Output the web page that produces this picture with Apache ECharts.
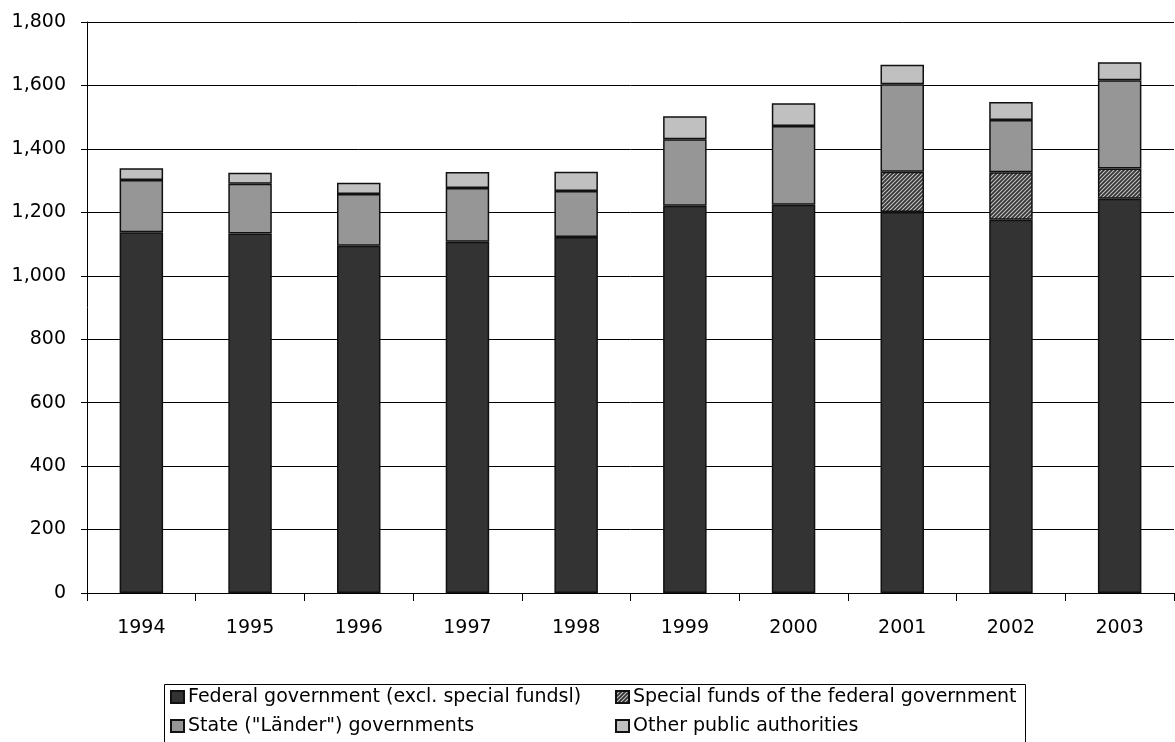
<!DOCTYPE html>
<html>
<head>
<meta charset="utf-8">
<script src="https://cdn.jsdelivr.net/npm/echarts@6/dist/echarts.min.js"></script>
<style>
html,body{margin:0;padding:0;background:#fff;}
#chart{width:1175px;height:742px;}
</style>
</head>
<body>
<div id="chart"></div>
<script>
const years = ['1994','1995','1996','1997','1998','1999','2000','2001','2002','2003'];
const federal = [1137, 1133, 1095, 1107, 1122, 1221, 1224, 1201, 1177, 1243];
const specialFunds = [0, 0, 0, 0, 0, 0, 0, 127, 149, 95];
const states = [165, 157, 163, 170, 145, 209, 248, 276, 165, 278];
const others = [37, 35, 35, 50, 61, 73, 72, 61, 57, 57];
const yTicks = [0, 200, 400, 600, 800, 1000, 1200, 1400, 1600, 1800];

const names = [
  'Federal government (excl. special fundsl)',
  'Special funds of the federal government',
  'State ("Länder") governments',
  'Other public authorities'
];

// hatch pattern
const pc = document.createElement('canvas');
pc.width = 4; pc.height = 4;
const g = pc.getContext('2d');
g.fillStyle = '#333333';
g.fillRect(0,0,4,4);
g.strokeStyle = '#c4c4c4';
g.lineWidth = 1.1;
g.beginPath();
g.moveTo(0,4); g.lineTo(4,0);
g.moveTo(-1,1); g.lineTo(1,-1);
g.moveTo(3,5); g.lineTo(5,3);
g.stroke();
const hatch = {image: pc, repeat: 'repeat'};

const font = '"DejaVu Sans", sans-serif';
const chart = echarts.init(document.getElementById('chart'), null, {renderer:'canvas'});

function mk(name, data, color) {
  return {
    name: name, type: 'bar', stack: 'total',
    data: data.map(v => (v === 0 ? null : v)),
    barWidth: '40%',
    itemStyle: {color: color, borderColor: '#111', borderWidth: 1.5},
    emphasis: {disabled: true}
  };
}

function lg(name, left, top) {
  return {
    left: left, top: top, padding: 0, data: [name],
    itemWidth: 13, itemHeight: 12, icon: 'rect', itemGap: 0,
    textStyle: {fontFamily: font, fontSize: 19, color: '#000', lineHeight: 20, padding: [0,0,0,-1]},
    selectedMode: false
  };
}

chart.setOption({
  animation: false,
  backgroundColor: '#fff',
  grid: {left: 87, right: 1, top: 22, bottom: 149, containLabel: false},
  xAxis: {
    type: 'category', data: years,
    axisLine: {lineStyle: {color: '#000', width: 1}},
    axisTick: {show: true, length: 8, alignWithLabel: false, lineStyle: {color: '#000'}},
    axisLabel: {fontFamily: font, fontSize: 19, color: '#000', margin: 26}
  },
  yAxis: {
    type: 'value', min: yTicks[0], max: yTicks[yTicks.length-1], interval: 200,
    axisLine: {show: true, lineStyle: {color: '#000', width: 1}},
    axisTick: {show: true, length: 6, inside: false, lineStyle: {color: '#000'}},
    splitLine: {lineStyle: {color: '#000', width: 1}},
    axisLabel: {fontFamily: font, fontSize: 19, color: '#000', margin: 21,
      formatter: v => v.toLocaleString('en-US')}
  },
  legend: [
    lg(names[0], 170, 687),
    lg(names[2], 170, 716),
    lg(names[1], 615, 687),
    lg(names[3], 615, 716)
  ],
  graphic: [{
    type: 'rect', left: 162, top: 682,
    shape: {width: 861, height: 70},
    style: {fill: 'none', stroke: '#000', lineWidth: 1},
    silent: true
  }],
  series: [
    mk(names[0], federal, '#333333'),
    mk(names[1], specialFunds, hatch),
    mk(names[2], states, '#969696'),
    mk(names[3], others, '#c0c0c0')
  ]
});
</script>
</body>
</html>
